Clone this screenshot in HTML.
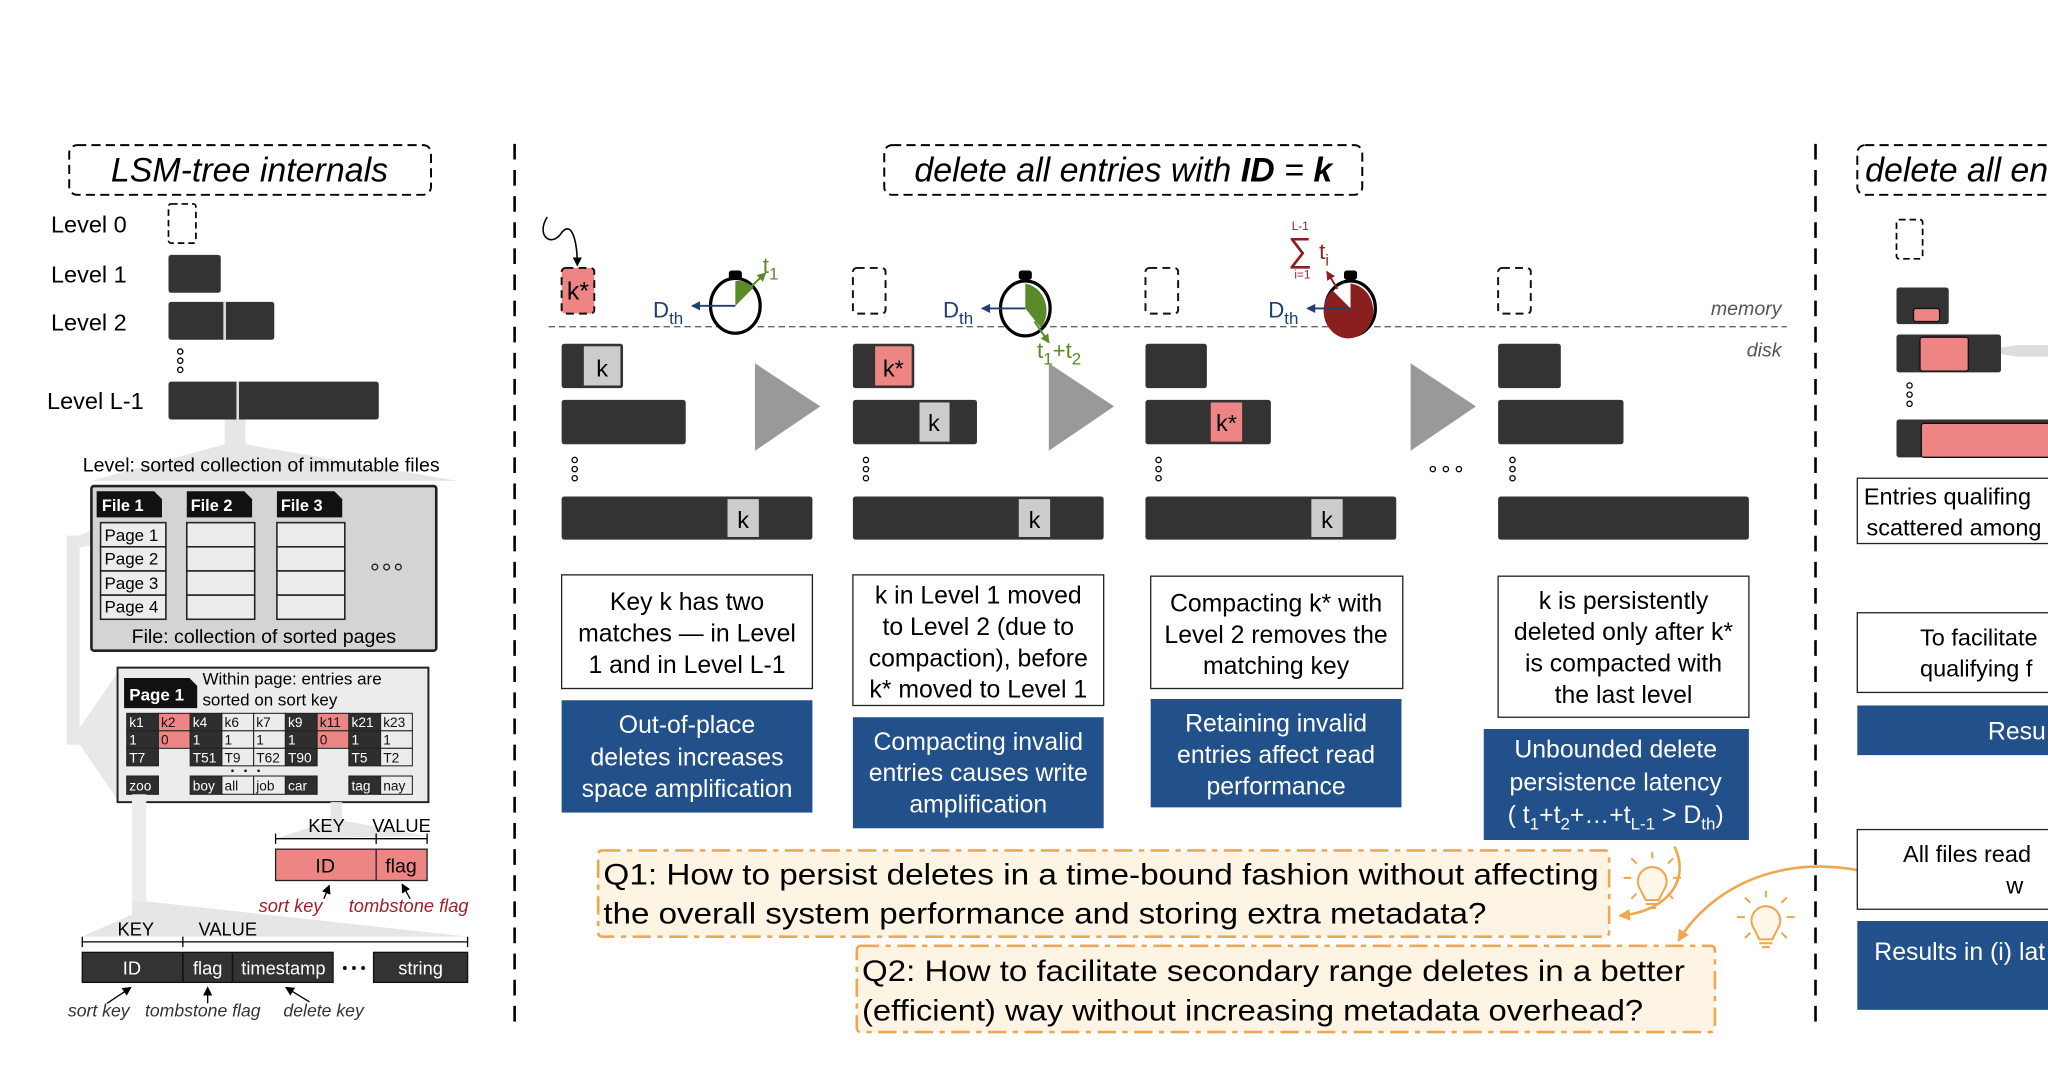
<!DOCTYPE html>
<html><head><meta charset="utf-8"><style>
html,body{margin:0;padding:0;background:#fff;width:2048px;height:1074px;overflow:hidden}
svg{display:block}
text{font-family:"Liberation Sans",Arial,sans-serif}
</style></head><body>
<svg width="2048" height="1074" viewBox="0 0 1568 822" xmlns="http://www.w3.org/2000/svg">
<defs>
<marker id="ab" markerWidth="8" markerHeight="8" refX="6" refY="4" orient="auto" markerUnits="userSpaceOnUse"><path d="M0,0.5 L7,4 L0,7.5 Z" fill="#000"/></marker>
<marker id="abl" markerWidth="8" markerHeight="8" refX="6" refY="4" orient="auto" markerUnits="userSpaceOnUse"><path d="M0,0.5 L7,4 L0,7.5 Z" fill="#1f3f74"/></marker>
<marker id="agr" markerWidth="8" markerHeight="8" refX="6" refY="4" orient="auto" markerUnits="userSpaceOnUse"><path d="M0,0.5 L7,4 L0,7.5 Z" fill="#5a8a2a"/></marker>
<marker id="ard" markerWidth="8" markerHeight="8" refX="6" refY="4" orient="auto" markerUnits="userSpaceOnUse"><path d="M0,0.5 L7,4 L0,7.5 Z" fill="#8a1f1f"/></marker>
<marker id="aor" markerWidth="10" markerHeight="10" refX="8" refY="5" orient="auto" markerUnits="userSpaceOnUse"><path d="M0,0.5 L9,5 L0,9.5 Z" fill="#f0a850"/></marker>
</defs>

<!-- ===== LEFT PANEL ===== -->
<rect x="53" y="111" width="277" height="38" rx="6" fill="none" stroke="#000" stroke-width="1.5" stroke-dasharray="7,4"/>
<text x="191" y="139" font-size="26" font-style="italic" text-anchor="middle">LSM-tree internals</text>

<text x="39" y="178" font-size="18">Level 0</text>
<text x="39" y="216" font-size="18">Level 1</text>
<text x="39" y="253" font-size="18">Level 2</text>
<text x="36" y="313" font-size="18">Level L-1</text>
<rect x="129" y="156" width="21" height="30" rx="2" fill="none" stroke="#000" stroke-width="1.3" stroke-dasharray="5,3"/>
<rect x="129" y="195" width="40" height="29" rx="2" fill="#333"/>
<rect x="129" y="231" width="81" height="29" rx="2" fill="#333"/>
<line x1="172" y1="231" x2="172" y2="260" stroke="#ddd" stroke-width="2"/>
<g fill="none" stroke="#000" stroke-width="1"><circle cx="138" cy="269" r="2"/><circle cx="138" cy="276" r="2"/><circle cx="138" cy="283" r="2"/></g>
<rect x="129" y="292" width="161" height="29" rx="2" fill="#333"/>
<line x1="182" y1="292" x2="182" y2="321" stroke="#ddd" stroke-width="2"/>

<polygon points="172,321 188,321 188,340 350,368 70,368 172,340" fill="#e6e6e6"/>
<text x="200" y="361" font-size="15" text-anchor="middle">Level: sorted collection of immutable files</text>

<!-- connector page1 -> page box (drawn before boxes) -->
<polygon points="77,402 77,416 61,419 51,419 51,410 61,410" fill="#e8e8e8"/>
<rect x="51" y="410" width="10" height="160" fill="#e8e8e8"/>
<polygon points="61,557 90,515 90,612 61,570" fill="#e8e8e8"/>

<!-- files box -->
<rect x="70" y="372" width="264" height="126" rx="2" fill="#d4d4d4" stroke="#222" stroke-width="2"/>
<g>
<path d="M74,376 h44 l6,6 v14 h-50 z" fill="#111"/><text x="78" y="391" font-size="12.5" font-weight="bold" fill="#fff">File 1</text>
<path d="M143,376 h44 l6,6 v14 h-50 z" fill="#111"/><text x="146" y="391" font-size="12.5" font-weight="bold" fill="#fff">File 2</text>
<path d="M212,376 h44 l6,6 v14 h-50 z" fill="#111"/><text x="215" y="391" font-size="12.5" font-weight="bold" fill="#fff">File 3</text>
</g>
<g fill="#ececec" stroke="#222" stroke-width="1.2">
<rect x="77" y="400" width="50" height="18.5"/><rect x="77" y="418.5" width="50" height="18.5"/><rect x="77" y="437" width="50" height="18.5"/><rect x="77" y="455.5" width="50" height="18.5"/>
<rect x="143" y="400" width="52" height="18.5"/><rect x="143" y="418.5" width="52" height="18.5"/><rect x="143" y="437" width="52" height="18.5"/><rect x="143" y="455.5" width="52" height="18.5"/>
<rect x="212" y="400" width="52" height="18.5"/><rect x="212" y="418.5" width="52" height="18.5"/><rect x="212" y="437" width="52" height="18.5"/><rect x="212" y="455.5" width="52" height="18.5"/>
</g>
<g font-size="13"><text x="80" y="414">Page 1</text><text x="80" y="432">Page 2</text><text x="80" y="451">Page 3</text><text x="80" y="469">Page 4</text></g>
<g fill="none" stroke="#222" stroke-width="1"><circle cx="287" cy="434" r="2.2"/><circle cx="296" cy="434" r="2.2"/><circle cx="305" cy="434" r="2.2"/></g>
<text x="202" y="492" font-size="15" text-anchor="middle">File: collection of sorted pages</text>

<!-- page box -->
<rect x="90" y="511" width="238" height="103" fill="#ececec" stroke="#222" stroke-width="1.5"/>
<path d="M95,519 h50 l6,6 v17 h-56 z" fill="#111"/><text x="99" y="536" font-size="13" font-weight="bold" fill="#fff">Page 1</text>
<text x="155" y="524" font-size="13">Within page: entries are</text>
<text x="155" y="540" font-size="13">sorted on sort key</text>

<g font-size="10.5" stroke="#222" stroke-width="0.8">
<rect x="97" y="546" width="24.3" height="13.4" fill="#2e2e2e"/>
<rect x="121.3" y="546" width="24.3" height="13.4" fill="#ee8585"/>
<rect x="145.6" y="546" width="24.3" height="13.4" fill="#2e2e2e"/>
<rect x="169.9" y="546" width="24.3" height="13.4" fill="#ececec"/>
<rect x="194.2" y="546" width="24.3" height="13.4" fill="#ececec"/>
<rect x="218.5" y="546" width="24.3" height="13.4" fill="#2e2e2e"/>
<rect x="242.8" y="546" width="24.3" height="13.4" fill="#ee8585"/>
<rect x="267.1" y="546" width="24.3" height="13.4" fill="#2e2e2e"/>
<rect x="291.4" y="546" width="24.3" height="13.4" fill="#ececec"/>
<rect x="97" y="559.4" width="24.3" height="13.4" fill="#2e2e2e"/>
<rect x="121.3" y="559.4" width="24.3" height="13.4" fill="#ee8585"/>
<rect x="145.6" y="559.4" width="24.3" height="13.4" fill="#2e2e2e"/>
<rect x="169.9" y="559.4" width="24.3" height="13.4" fill="#ececec"/>
<rect x="194.2" y="559.4" width="24.3" height="13.4" fill="#ececec"/>
<rect x="218.5" y="559.4" width="24.3" height="13.4" fill="#2e2e2e"/>
<rect x="242.8" y="559.4" width="24.3" height="13.4" fill="#ee8585"/>
<rect x="267.1" y="559.4" width="24.3" height="13.4" fill="#2e2e2e"/>
<rect x="291.4" y="559.4" width="24.3" height="13.4" fill="#ececec"/>
<rect x="97" y="572.8" width="24.3" height="13.4" fill="#2e2e2e"/>
<rect x="145.6" y="572.8" width="24.3" height="13.4" fill="#2e2e2e"/>
<rect x="169.9" y="572.8" width="24.3" height="13.4" fill="#ececec"/>
<rect x="194.2" y="572.8" width="24.3" height="13.4" fill="#ececec"/>
<rect x="218.5" y="572.8" width="24.3" height="13.4" fill="#2e2e2e"/>
<rect x="267.1" y="572.8" width="24.3" height="13.4" fill="#2e2e2e"/>
<rect x="291.4" y="572.8" width="24.3" height="13.4" fill="#ececec"/>
<rect x="97" y="594" width="24.3" height="14" fill="#2e2e2e"/>
<rect x="145.6" y="594" width="24.3" height="14" fill="#2e2e2e"/>
<rect x="169.9" y="594" width="24.3" height="14" fill="#ececec"/>
<rect x="194.2" y="594" width="24.3" height="14" fill="#ececec"/>
<rect x="218.5" y="594" width="24.3" height="14" fill="#2e2e2e"/>
<rect x="267.1" y="594" width="24.3" height="14" fill="#2e2e2e"/>
<rect x="291.4" y="594" width="24.3" height="14" fill="#ececec"/>
</g>
<g font-size="10.5" stroke="none">
<g fill="#fff"><text x="99" y="556.5">k1</text><text x="147.6" y="556.5">k4</text><text x="220.5" y="556.5">k9</text><text x="269.1" y="556.5">k21</text>
<text x="99" y="570">1</text><text x="147.6" y="570">1</text><text x="220.5" y="570">1</text><text x="269.1" y="570">1</text>
<text x="99" y="583.5">T7</text><text x="147.6" y="583.5">T51</text><text x="220.5" y="583.5">T90</text><text x="269.1" y="583.5">T5</text>
<text x="99" y="605">zoo</text><text x="147.6" y="605">boy</text><text x="220.5" y="605">car</text><text x="269.1" y="605">tag</text></g>
<g fill="#111"><text x="123.3" y="556.5">k2</text><text x="171.9" y="556.5">k6</text><text x="196.2" y="556.5">k7</text><text x="244.8" y="556.5">k11</text><text x="293.4" y="556.5">k23</text>
<text x="123.3" y="570">0</text><text x="171.9" y="570">1</text><text x="196.2" y="570">1</text><text x="244.8" y="570">0</text><text x="293.4" y="570">1</text>
<text x="171.9" y="583.5">T9</text><text x="196.2" y="583.5">T62</text><text x="293.4" y="583.5">T2</text>
<text x="171.9" y="605">all</text><text x="196.2" y="605">job</text><text x="293.4" y="605">nay</text></g>
<g fill="#111"><circle cx="178" cy="590" r="1"/><circle cx="188" cy="590" r="1"/><circle cx="198" cy="590" r="1"/></g>
</g>

<!-- connector k11 -> ID/flag -->
<polygon points="253,614 262,614 262,628 327,640 211,642 253,628" fill="#e6e6e6"/>
<text x="236" y="637" font-size="14">KEY</text>
<text x="285" y="637" font-size="14">VALUE</text>
<g stroke="#000" stroke-width="1"><line x1="211" y1="642" x2="327" y2="642"/><line x1="211" y1="638" x2="211" y2="646"/><line x1="288" y1="638" x2="288" y2="646"/><line x1="327" y1="638" x2="327" y2="646"/></g>
<rect x="211" y="650" width="116" height="24" fill="#ee8585" stroke="#222" stroke-width="1"/>
<line x1="288" y1="650" x2="288" y2="674" stroke="#222"/>
<text x="249" y="668" font-size="15" text-anchor="middle">ID</text>
<text x="307" y="668" font-size="15" text-anchor="middle">flag</text>
<line x1="314" y1="688" x2="308" y2="677" stroke="#000" marker-end="url(#ab)"/>
<line x1="248" y1="688" x2="252" y2="678" stroke="#000" marker-end="url(#ab)"/>
<text x="198" y="698" font-size="14" font-style="italic" fill="#a02028">sort key</text>
<text x="267" y="698" font-size="14" font-style="italic" fill="#a02028">tombstone flag</text>

<!-- connector zoo -> bottom -->
<rect x="101" y="608" width="11" height="82" fill="#ececec"/>
<polygon points="101,690 112,690 358,717 63,717 101,700" fill="#e6e6e6"/>
<text x="90" y="716" font-size="14">KEY</text>
<text x="152" y="716" font-size="14">VALUE</text>
<g stroke="#000" stroke-width="1"><line x1="63" y1="721" x2="358" y2="721"/><line x1="63" y1="717" x2="63" y2="725"/><line x1="140" y1="717" x2="140" y2="725"/><line x1="358" y1="717" x2="358" y2="725"/></g>
<rect x="63" y="729" width="192" height="23" fill="#333" stroke="#111"/>
<line x1="140" y1="729" x2="140" y2="752" stroke="#111" stroke-width="1.2"/>
<line x1="178" y1="729" x2="178" y2="752" stroke="#111" stroke-width="1.2"/>
<rect x="286" y="729" width="72" height="23" fill="#333" stroke="#111"/>
<g fill="#fff" font-size="14" text-anchor="middle"><text x="101" y="746">ID</text><text x="159" y="746">flag</text><text x="217" y="746">timestamp</text><text x="322" y="746">string</text></g>
<g fill="#111"><circle cx="264" cy="741" r="1.5"/><circle cx="271" cy="741" r="1.5"/><circle cx="278" cy="741" r="1.5"/></g>
<line x1="82" y1="768" x2="100" y2="756" stroke="#000" marker-end="url(#ab)"/>
<line x1="159" y1="768" x2="159" y2="756" stroke="#000" marker-end="url(#ab)"/>
<line x1="237" y1="767" x2="219" y2="756" stroke="#000" marker-end="url(#ab)"/>
<g font-size="13.5" font-style="italic" fill="#333"><text x="52" y="778">sort key</text><text x="111" y="778">tombstone flag</text><text x="217" y="778">delete key</text></g>

<!-- separators -->
<line x1="394" y1="110" x2="394" y2="790" stroke="#000" stroke-width="2" stroke-dasharray="12,8"/>
<line x1="1390" y1="110" x2="1390" y2="790" stroke="#000" stroke-width="2" stroke-dasharray="12,8"/>

<!-- ===== MIDDLE PANEL ===== -->
<rect x="677" y="111" width="366" height="38" rx="6" fill="none" stroke="#000" stroke-width="1.5" stroke-dasharray="7,4"/>
<text x="860" y="139" font-size="26" font-style="italic" text-anchor="middle">delete all entries with <tspan font-weight="bold">ID</tspan> = <tspan font-weight="bold">k</tspan></text>

<line x1="420" y1="250" x2="1368" y2="250" stroke="#666" stroke-width="1" stroke-dasharray="5,3"/>
<text x="1364" y="241" font-size="15" font-style="italic" fill="#555" text-anchor="end">memory</text>
<text x="1364" y="273" font-size="15" font-style="italic" fill="#555" text-anchor="end">disk</text>

<!-- stage 1 -->
<path d="M419,166 C410,180 422,190 430,178 C438,168 442,185 442,203" fill="none" stroke="#000" stroke-width="1.2" marker-end="url(#ab)"/>
<rect x="430" y="205" width="25" height="35" rx="3" fill="#ee8585" stroke="#111" stroke-width="1.5" stroke-dasharray="6,4"/>
<text x="442.5" y="229" font-size="19" text-anchor="middle">k*</text>
<rect x="558" y="207" width="10" height="7" rx="2" fill="#000"/>
<ellipse cx="563" cy="234" rx="19" ry="21" fill="#fff" stroke="#000" stroke-width="2.5"/>
<path d="M563,234 L563,215 A19,21 0 0 1 577,220 Z" fill="#5a8a2a"/>
<line x1="563" y1="234" x2="530" y2="234" stroke="#1f3f74" stroke-width="1.5" marker-end="url(#abl)"/>
<line x1="570" y1="224" x2="586" y2="209" stroke="#5a8a2a" stroke-width="1.5" marker-end="url(#agr)"/>
<text x="500" y="243" font-size="17" fill="#1f3f74">D<tspan font-size="13" dy="5">th</tspan></text>
<text x="584" y="209" font-size="17" fill="#5a8a2a">t<tspan font-size="13" dy="5">1</tspan></text>
<rect x="430" y="263" width="47" height="34" rx="2" fill="#333"/>
<rect x="447" y="265" width="28" height="30" fill="#ccc"/>
<text x="461" y="288" font-size="18" text-anchor="middle">k</text>
<rect x="430" y="306" width="95" height="34" rx="2" fill="#333"/>
<g fill="none" stroke="#000" stroke-width="1"><circle cx="440" cy="352" r="2"/><circle cx="440" cy="359" r="2"/><circle cx="440" cy="366" r="2"/></g>
<rect x="430" y="380" width="192" height="33" rx="2" fill="#333"/>
<rect x="557" y="382" width="24" height="29" fill="#ccc"/>
<text x="569" y="404" font-size="18" text-anchor="middle">k</text>
<polygon points="578,278 628,311 578,345" fill="#999"/>
<rect x="430" y="440" width="192" height="87" fill="#fff" stroke="#222" stroke-width="1"/>
<g font-size="19" text-anchor="middle"><text x="526" y="467">Key k has two</text><text x="526" y="491">matches  — in Level</text><text x="526" y="515">1 and in Level L-1</text></g>
<rect x="430" y="536" width="192" height="86" fill="#22508a"/>
<g font-size="19" text-anchor="middle" fill="#fff"><text x="526" y="561">Out-of-place</text><text x="526" y="586">deletes increases</text><text x="526" y="610">space amplification</text></g>

<!-- stage 2 -->
<rect x="653" y="205" width="25" height="35" rx="3" fill="none" stroke="#111" stroke-width="1.5" stroke-dasharray="6,4"/>
<rect x="780" y="207" width="10" height="7" rx="2" fill="#000"/>
<ellipse cx="785" cy="236" rx="19" ry="21" fill="#fff" stroke="#000" stroke-width="2.5"/>
<path d="M785,236 L785,217 A19,21 0 0 1 797,251 Z" fill="#5a8a2a"/>
<line x1="785" y1="236" x2="752" y2="236" stroke="#1f3f74" stroke-width="1.5" marker-end="url(#abl)"/>
<line x1="792" y1="246" x2="803" y2="262" stroke="#5a8a2a" stroke-width="1.5" marker-end="url(#agr)"/>
<text x="722" y="243" font-size="17" fill="#1f3f74">D<tspan font-size="13" dy="5">th</tspan></text>
<text x="794" y="274" font-size="17" fill="#5a8a2a">t<tspan font-size="13" dy="5">1</tspan><tspan dy="-5">+t</tspan><tspan font-size="13" dy="5">2</tspan></text>
<rect x="653" y="263" width="47" height="34" rx="2" fill="#333"/>
<rect x="670" y="265" width="28" height="30" fill="#ee8585"/>
<text x="684" y="288" font-size="18" text-anchor="middle">k*</text>
<rect x="653" y="306" width="95" height="34" rx="2" fill="#333"/>
<rect x="704" y="308" width="23" height="30" fill="#ccc"/>
<text x="715" y="330" font-size="18" text-anchor="middle">k</text>
<g fill="none" stroke="#000" stroke-width="1"><circle cx="663" cy="352" r="2"/><circle cx="663" cy="359" r="2"/><circle cx="663" cy="366" r="2"/></g>
<rect x="653" y="380" width="192" height="33" rx="2" fill="#333"/>
<rect x="780" y="382" width="24" height="29" fill="#ccc"/>
<text x="792" y="404" font-size="18" text-anchor="middle">k</text>
<polygon points="803,278 853,311 803,345" fill="#999"/>
<rect x="653" y="440" width="192" height="100" fill="#fff" stroke="#222" stroke-width="1"/>
<g font-size="19" text-anchor="middle"><text x="749" y="462">k in Level 1 moved</text><text x="749" y="486">to Level 2 (due to</text><text x="749" y="510">compaction), before</text><text x="749" y="534">k* moved to Level 1</text></g>
<rect x="653" y="549" width="192" height="85" fill="#22508a"/>
<g font-size="19" text-anchor="middle" fill="#fff"><text x="749" y="574">Compacting invalid</text><text x="749" y="598">entries causes write</text><text x="749" y="622">amplification</text></g>

<!-- stage 3 -->
<rect x="877" y="205" width="25" height="35" rx="3" fill="none" stroke="#111" stroke-width="1.5" stroke-dasharray="6,4"/>
<rect x="1029" y="207" width="10" height="7" rx="2" fill="#000"/>
<ellipse cx="1034" cy="236" rx="19" ry="21" fill="#fff" stroke="#000" stroke-width="2.5"/>
<path d="M1034,236 L1034,217 A19,21 0 1 1 1020,222 Z" fill="#8a1f1f"/>
<line x1="1034" y1="236" x2="1001" y2="236" stroke="#1f3f74" stroke-width="1.5" marker-end="url(#abl)"/>
<line x1="1024" y1="221" x2="1016" y2="208" stroke="#8a1f1f" stroke-width="1.5" marker-end="url(#ard)"/>
<text x="971" y="243" font-size="17" fill="#1f3f74">D<tspan font-size="13" dy="5">th</tspan></text>
<text x="989" y="176" font-size="9" fill="#8a1f1f">L-1</text>
<text x="986" y="200" font-size="26" fill="#8a1f1f">∑</text>
<text x="1010" y="198" font-size="17" fill="#8a1f1f">t<tspan font-size="12" dy="5">i</tspan></text>
<text x="991" y="213" font-size="9" fill="#8a1f1f">i=1</text>
<rect x="877" y="263" width="47" height="34" rx="2" fill="#333"/>
<rect x="877" y="306" width="96" height="34" rx="2" fill="#333"/>
<rect x="927" y="308" width="24" height="30" fill="#ee8585"/>
<text x="939" y="330" font-size="18" text-anchor="middle">k*</text>
<g fill="none" stroke="#000" stroke-width="1"><circle cx="887" cy="352" r="2"/><circle cx="887" cy="359" r="2"/><circle cx="887" cy="366" r="2"/></g>
<rect x="877" y="380" width="192" height="33" rx="2" fill="#333"/>
<rect x="1004" y="382" width="24" height="29" fill="#ccc"/>
<text x="1016" y="404" font-size="18" text-anchor="middle">k</text>
<rect x="881" y="441" width="193" height="86" fill="#fff" stroke="#222" stroke-width="1"/>
<g font-size="19" text-anchor="middle"><text x="977" y="468">Compacting k* with</text><text x="977" y="492">Level 2 removes the</text><text x="977" y="516">matching key</text></g>
<rect x="881" y="535" width="192" height="83" fill="#22508a"/>
<g font-size="19" text-anchor="middle" fill="#fff"><text x="977" y="560">Retaining invalid</text><text x="977" y="584">entries affect read</text><text x="977" y="608">performance</text></g>

<g fill="none" stroke="#000" stroke-width="1"><circle cx="1097" cy="359" r="2"/><circle cx="1107" cy="359" r="2"/><circle cx="1117" cy="359" r="2"/></g>
<polygon points="1080,278 1130,311 1080,345" fill="#999"/>

<!-- stage 4 -->
<rect x="1147" y="205" width="25" height="35" rx="3" fill="none" stroke="#111" stroke-width="1.5" stroke-dasharray="6,4"/>
<rect x="1147" y="263" width="48" height="34" rx="2" fill="#333"/>
<rect x="1147" y="306" width="96" height="34" rx="2" fill="#333"/>
<g fill="none" stroke="#000" stroke-width="1"><circle cx="1158" cy="352" r="2"/><circle cx="1158" cy="359" r="2"/><circle cx="1158" cy="366" r="2"/></g>
<rect x="1147" y="380" width="192" height="33" rx="2" fill="#333"/>
<rect x="1147" y="441" width="192" height="108" fill="#fff" stroke="#222" stroke-width="1"/>
<g font-size="19" text-anchor="middle"><text x="1243" y="466">k is persistently</text><text x="1243" y="490">deleted only after k*</text><text x="1243" y="514">is compacted with</text><text x="1243" y="538">the last level</text></g>
<rect x="1136" y="558" width="203" height="85" fill="#22508a"/>
<g font-size="19" text-anchor="middle" fill="#fff"><text x="1237" y="580">Unbounded delete</text><text x="1237" y="605">persistence latency</text>
<text x="1237" y="630">( t<tspan font-size="13" dy="5">1</tspan><tspan dy="-5">+t</tspan><tspan font-size="13" dy="5">2</tspan><tspan dy="-5">+…+t</tspan><tspan font-size="13" dy="5">L-1</tspan><tspan dy="-5"> &gt; D</tspan><tspan font-size="13" dy="5">th</tspan><tspan dy="-5">)</tspan></text></g>

<!-- Q boxes -->
<rect x="458" y="651" width="774" height="66" rx="3" fill="#fdf4e4" stroke="#f0a850" stroke-width="2" stroke-dasharray="14,5,4,5"/>
<text x="462" y="677" font-size="23" textLength="762" lengthAdjust="spacingAndGlyphs">Q1: How to persist deletes in a time-bound fashion without affecting</text>
<text x="462" y="707" font-size="23" textLength="676" lengthAdjust="spacingAndGlyphs">the overall system performance and storing extra metadata?</text>
<rect x="656" y="724" width="657" height="66" rx="3" fill="#fdf4e4" stroke="#f0a850" stroke-width="2" stroke-dasharray="14,5,4,5"/>
<text x="660" y="751" font-size="23" textLength="630" lengthAdjust="spacingAndGlyphs">Q2: How to facilitate secondary range deletes in a better</text>
<text x="660" y="781" font-size="23" textLength="598" lengthAdjust="spacingAndGlyphs">(efficient) way without increasing metadata overhead?</text>

<!-- bulbs -->
<g stroke="#f0a850" stroke-width="1.6" fill="none">
<g transform="translate(1265,675)">
<path d="M-9,6 A11,11 0 1 1 9,6 L5,14 L-5,14 Z" fill="#fff7ea"/><line x1="-5" y1="17" x2="5" y2="17"/><line x1="-3" y1="20" x2="3" y2="20"/>
<line x1="0" y1="-18" x2="0" y2="-23"/><line x1="-16" y1="-3" x2="-22" y2="-3"/><line x1="16" y1="-3" x2="22" y2="-3"/><line x1="-12" y1="-14" x2="-16" y2="-18"/><line x1="12" y1="-14" x2="16" y2="-18"/><line x1="-12" y1="9" x2="-16" y2="13"/><line x1="12" y1="9" x2="16" y2="13"/>
</g>
<g transform="translate(1352,705)">
<path d="M-9,6 A11,11 0 1 1 9,6 L5,14 L-5,14 Z" fill="#fff7ea"/><line x1="-5" y1="17" x2="5" y2="17"/><line x1="-3" y1="20" x2="3" y2="20"/>
<line x1="0" y1="-18" x2="0" y2="-23"/><line x1="-16" y1="-3" x2="-22" y2="-3"/><line x1="16" y1="-3" x2="22" y2="-3"/><line x1="-12" y1="-14" x2="-16" y2="-18"/><line x1="12" y1="-14" x2="16" y2="-18"/><line x1="-12" y1="9" x2="-16" y2="13"/><line x1="12" y1="9" x2="16" y2="13"/>
</g>
</g>
<path d="M1282,648 C1295,675 1275,698 1240,701" fill="none" stroke="#f0a850" stroke-width="2" marker-end="url(#aor)"/>
<path d="M1422,666 C1360,655 1310,680 1285,720" fill="none" stroke="#f0a850" stroke-width="2" marker-end="url(#aor)"/>

<!-- ===== RIGHT PANEL ===== -->
<rect x="1422" y="111" width="180" height="38" rx="6" fill="none" stroke="#000" stroke-width="1.5" stroke-dasharray="7,4"/>
<text x="1428" y="139" font-size="26" font-style="italic">delete all entries</text>
<rect x="1452" y="168" width="20" height="30" rx="2" fill="none" stroke="#000" stroke-width="1.3" stroke-dasharray="5,3"/>
<rect x="1452" y="220" width="40" height="28" rx="2" fill="#333"/>
<rect x="1465" y="236" width="20" height="10" rx="2" fill="#ee8585" stroke="#111"/>
<rect x="1452" y="256" width="80" height="29" rx="2" fill="#333"/>
<rect x="1470" y="258" width="37" height="26" rx="2" fill="#ee8585" stroke="#111"/>
<polygon points="1532,266 1545,264 1568,264 1568,273 1545,273 1532,271" fill="#ddd"/>
<g fill="none" stroke="#000" stroke-width="1"><circle cx="1462" cy="295" r="2"/><circle cx="1462" cy="302" r="2"/><circle cx="1462" cy="309" r="2"/></g>
<rect x="1452" y="321" width="130" height="29" rx="2" fill="#333"/>
<rect x="1471" y="324" width="110" height="26" rx="2" fill="#ee8585" stroke="#111"/>
<rect x="1422" y="366" width="160" height="50" fill="#fff" stroke="#222"/>
<text x="1427" y="386" font-size="18">Entries qualifing</text>
<text x="1429" y="410" font-size="18">scattered among</text>
<rect x="1422" y="469" width="160" height="61" fill="#fff" stroke="#222"/>
<text x="1470" y="494" font-size="18">To facilitate</text>
<text x="1470" y="518" font-size="18">qualifying f</text>
<rect x="1422" y="540" width="160" height="38" fill="#22508a"/>
<text x="1522" y="566" font-size="19" fill="#fff">Resu</text>
<rect x="1422" y="635" width="160" height="61" fill="#fff" stroke="#222"/>
<text x="1457" y="660" font-size="18">All files read</text>
<text x="1536" y="684" font-size="18">w</text>
<rect x="1422" y="705" width="160" height="68" fill="#22508a"/>
<text x="1435" y="735" font-size="19" fill="#fff">Results in (i) lat</text>
</svg>
</body></html>
